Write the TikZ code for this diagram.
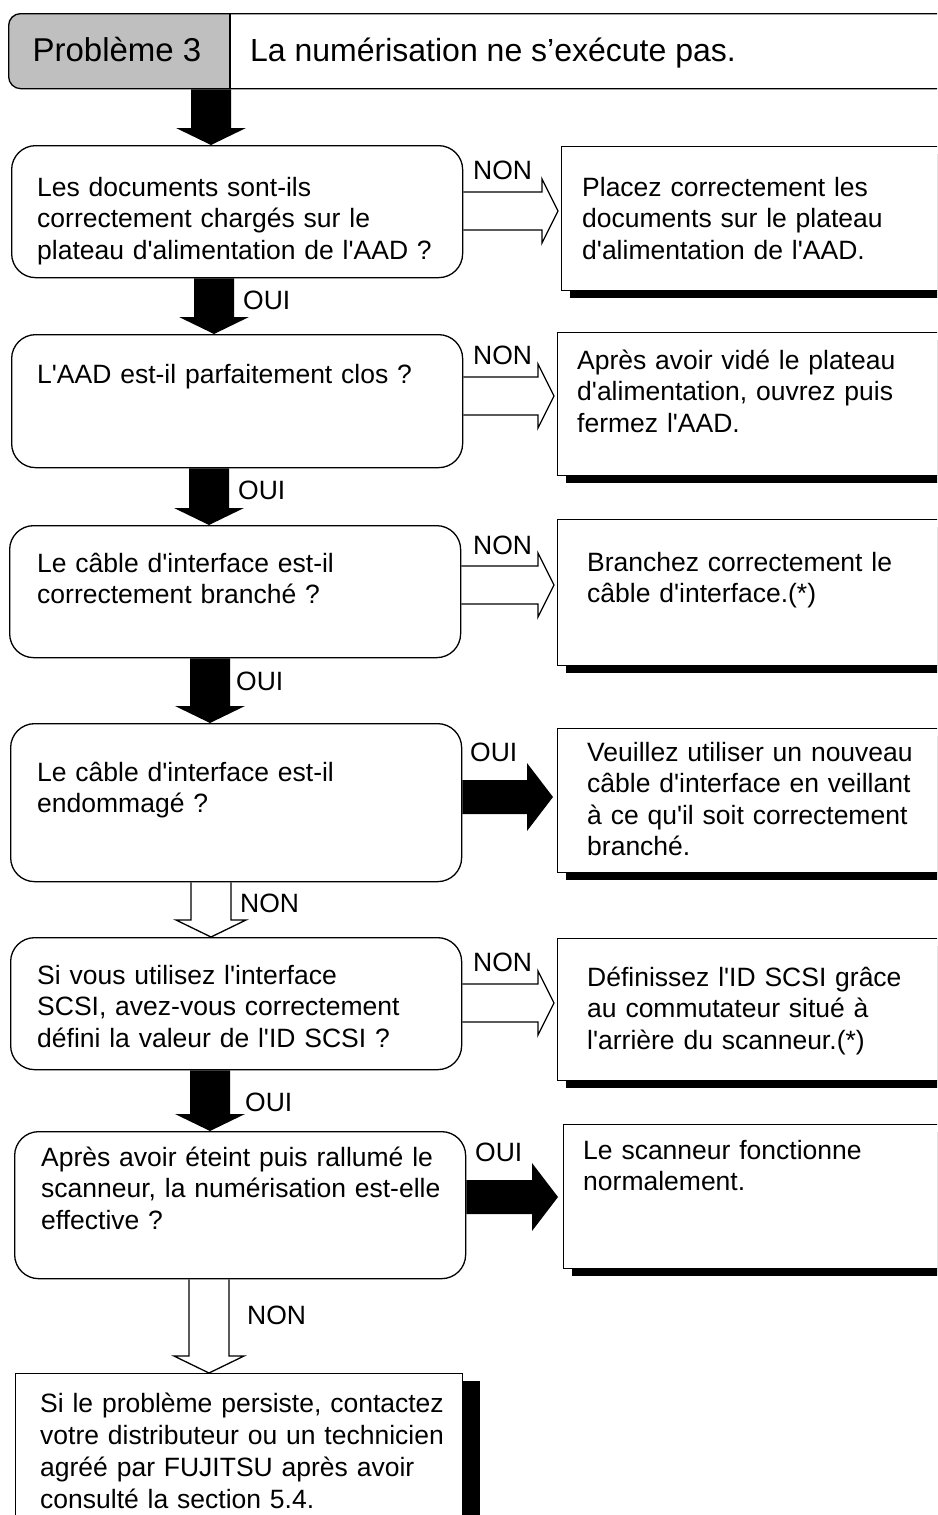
\documentclass[tikz,border=0pt]{standalone}
\usepackage{fontspec}
\setmainfont{Liberation Sans}[Ligatures=TeXOff]
\usepackage{tikz}
\usetikzlibrary{calc,shadows}

\newcommand{\flowdn}[3]{%
    \path[#1] let \p1=(#2), \p2=(#3) in
        (\x1-20pt,\y1) -- (\x1-20pt,\y2+17pt) -- (\x1-35pt,\y2+17pt) -- (\x1,\y2)
        -- (\x1+35pt,\y2+17pt) -- (\x1+20pt,\y2+17pt) -- (\x1+20pt,\y1);}
\newcommand{\flowrt}[6]{%
    \path[#1] let \p1=(#2), \p2=(#3) in
        (\x1,\y1+#4) -- (\x2-#6,\y1+#4) -- (\x2-#6,\y1+#5) -- (\x2,\y1)
        -- (\x2-#6,\y1-#5) -- (\x2-#6,\y1-#4) -- (\x1,\y1-#4);}

\begin{document}
\begin{tikzpicture}[
        x=1pt, y=-1pt,
        txt/.style={anchor=base west, align=left, text width=430pt, inner sep=0pt, font=\fontsize{26.5}{31.5}\selectfont},
        lbl/.style={anchor=base west, inner sep=0pt, font=\fontsize{26.5}{31.5}\selectfont},
        head/.style={draw, line width=1.3pt, rounded corners=12pt, minimum width=980pt, minimum height=75pt, anchor=north west, inner sep=0pt},
        question/.style={draw, line width=1.3pt, rounded corners=24pt, minimum width=451pt, anchor=north west, inner sep=0pt},
        answer/.style={draw, line width=1.3pt, fill=white, minimum width=400pt, anchor=north west, inner sep=0pt,
            drop shadow={shadow xshift=8pt, shadow yshift=-7pt, fill=black, opacity=1}},
        solidarrow/.style={fill=black},
        hollowarrow/.style={draw=black, line width=1.3pt, line join=miter}
    ]
    \useasboundingbox (0,0) rectangle (937,1515);
    \clip (0,0) rectangle (937,1515);

    \begin{scope}
        \clip (8,13) rectangle (230,88);
        \fill[gray!50, rounded corners=12pt] (8,13) rectangle (300,88);
    \end{scope}
    \node[head] (head) at (8,13) {};
    \draw[line width=1.3pt] ($(head.north west)+(222,0)$) -- ($(head.south west)+(222,0)$);
    \node[lbl, anchor=base, font=\fontsize{33}{38}\selectfont] (probnum) at (117,61) {Problème 3};
    \node[lbl, font=\fontsize{32}{38}\selectfont] (probtitle) at (250,61) {La numérisation ne s’exécute pas.};

    \node[question, minimum height=132pt] (q1) at (11,145) {};
    \node[question, minimum height=133pt] (q2) at (11,334) {};
    \node[question, minimum height=132pt] (q3) at (9,525) {};
    \node[question, minimum height=158pt] (q4) at (10,723) {};
    \node[question, minimum height=132pt] (q5) at (10,937) {};
    \node[question, minimum height=147pt] (q6) at (14,1131) {};

    \node[answer, minimum height=144pt] (r1) at (561,146) {};
    \node[answer, minimum height=143pt] (r2) at (557,332) {};
    \node[answer, minimum height=146pt] (r3) at (557,519) {};
    \node[answer, minimum height=144pt] (r4) at (557,728) {};
    \node[answer, minimum height=142pt] (r5) at (557,938) {};
    \node[answer, minimum height=144pt] (r6) at (563,1124) {};
    \node[answer, minimum width=447pt, minimum height=200pt,
        drop shadow={shadow xshift=17pt, shadow yshift=-7pt, fill=black, opacity=1}] (fin) at (15,1373) {};

    \node[txt] (q1t) at (37,196) {Les documents sont-ils\\correctement chargés sur le\\plateau d'alimentation de l'AAD ?};
    \node[txt] (q2t) at (37,383) {L'AAD est-il parfaitement clos ?};
    \node[txt] (q3t) at (37,572) {Le câble d'interface est-il\\correctement branché ?};
    \node[txt] (q4t) at (37,781) {Le câble d'interface est-il\\endommagé ?};
    \node[txt] (q5t) at (37,984) {Si vous utilisez l'interface\\SCSI, avez-vous correctement\\défini la valeur de l'ID SCSI ?};
    \node[txt] (q6t) at (41,1166) {Après avoir éteint puis rallumé le\\scanneur, la numérisation est-elle\\effective ?};

    \node[txt, text width=340pt] (r1t) at (582,196) {Placez correctement les\\documents sur le plateau\\d'alimentation de l'AAD.};
    \node[txt, text width=340pt] (r2t) at (577,369) {Après avoir vidé le plateau\\d'alimentation, ouvrez puis\\fermez l'AAD.};
    \node[txt, text width=340pt] (r3t) at (587,571) {Branchez correctement le\\câble d'interface.(*)};
    \node[txt, text width=340pt] (r4t) at (587,761) {Veuillez utiliser un nouveau\\câble d'interface en veillant\\à ce qu'il soit correctement\\branché.};
    \node[txt, text width=340pt] (r5t) at (587,986) {Définissez l'ID SCSI grâce\\au commutateur situé à\\l'arrière du scanneur.(*)};
    \node[txt, text width=340pt] (r6t) at (583,1159) {Le scanneur fonctionne\\normalement.};
    \node[txt, font=\fontsize{26.5}{32}\selectfont] (fint) at (40,1412) {Si le problème persiste, contactez\\votre distributeur ou un technicien\\agréé par FUJITSU après avoir\\consulté la section 5.4.};

    \flowdn{solidarrow}{$(head.south west)+(203,0)$}{q1.north}
    \flowdn{solidarrow}{$(q1.south west)+(203,0)$}{q2.north}
    \flowdn{solidarrow}{$(q2.south west)+(198,0)$}{q3.north}
    \flowdn{solidarrow}{$(q3.south west)+(201,0)$}{q4.north}
    \flowdn{hollowarrow}{$(q4.south west)+(201,0)$}{q5.north}
    \flowdn{solidarrow}{$(q5.south west)+(200,0)$}{q6.north}
    \flowdn{hollowarrow}{$(q6.south west)+(195,0)$}{fin.north}

    \flowrt{hollowarrow}{$(q1.north east)+(0,66)$}{[xshift=-3pt]r1.west}{19pt}{32pt}{16pt}
    \flowrt{hollowarrow}{$(q2.north east)+(0,62)$}{[xshift=-3pt]r2.west}{19pt}{32pt}{16pt}
    \flowrt{hollowarrow}{$(q3.north east)+(0,60)$}{[xshift=-3pt]r3.west}{19pt}{32pt}{16pt}
    \flowrt{solidarrow}{$(q4.north east)+(0,74)$}{[xshift=-4pt]r4.west}{17pt}{34pt}{26pt}
    \flowrt{hollowarrow}{$(q5.north east)+(0,66)$}{[xshift=-3pt]r5.west}{19pt}{32pt}{16pt}
    \flowrt{solidarrow}{$(q6.north east)+(0,66)$}{[xshift=-5pt]r6.west}{17pt}{34pt}{26pt}

    \node[lbl] (oui1) at (243,309) {OUI};
    \node[lbl] (oui2) at (238,499) {OUI};
    \node[lbl] (oui3) at (236,690) {OUI};
    \node[lbl] (non4) at (240,912) {NON};
    \node[lbl] (oui5) at (245,1111) {OUI};
    \node[lbl] (non6) at (247,1324) {NON};
    \node[lbl] (non1) at (473,179) {NON};
    \node[lbl] (non2) at (473,364) {NON};
    \node[lbl] (non3) at (473,554) {NON};
    \node[lbl] (oui4) at (470,761) {OUI};
    \node[lbl] (non5) at (473,971) {NON};
    \node[lbl] (oui6) at (475,1161) {OUI};
\end{tikzpicture}
\end{document}
